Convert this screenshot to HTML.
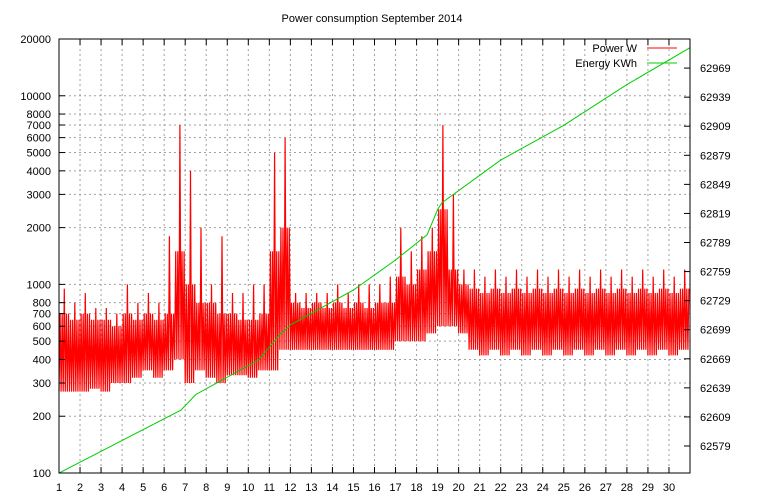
<!DOCTYPE html>
<html><head><meta charset="utf-8"><style>
body{margin:0;background:#fff}
svg{display:block;font-family:"Liberation Sans",sans-serif;font-size:11px}
</style></head><body>
<svg id="c" width="768" height="500" viewBox="0 0 768 500">
<rect width="768" height="500" fill="#fff"/>
<text x="372" y="22" text-anchor="middle">Power consumption September 2014</text>
<g id="grid"></g>
<g id="series"></g>
<g id="axes"></g>
<g>
<text x="637" y="52" text-anchor="end">Power W</text>
<line x1="647" y1="48" x2="677" y2="48" stroke="#f00"/>
<text x="637" y="67" text-anchor="end">Energy KWh</text>
<line x1="647" y1="63" x2="677" y2="63" stroke="#0c0"/>
</g>
</svg>
<script>
const dayTicks=[1,2,3,4,5,6,7,8,9,10,11,12,13,14,15,16,17,18,19,20,21,22,23,24,25,26,27,28,29,30];
const powerTicks=[100,200,300,400,500,600,700,800,1000,2000,3000,4000,5000,6000,7000,8000,10000,20000];
const energyTicks=[62579,62609,62639,62669,62699,62729,62759,62789,62819,62849,62879,62909,62939,62969];
// half-day segments starting at day 1
const powerLow=[270,270,270,280,270,300,300,320,350,320,350,400,300,350,320,300,330,330,320,350,350,450,450,450,450,450,450,450,450,450,450,450,500,500,500,550,600,600,550,450,420,450,420,450,420,450,420,450,420,450,420,450,420,450,420,450,420,450,420,450];
const powerHigh=[700,650,700,650,650,600,700,650,700,650,700,1500,1000,800,800,700,700,650,650,700,1500,2000,800,750,800,750,800,750,800,750,800,800,1100,1000,1200,1500,2500,1200,1000,950,900,950,900,950,900,950,900,950,900,950,900,950,900,950,900,950,900,950,900,950];
const powerPeak=[950,800,900,750,750,700,1000,800,900,800,1800,7000,4000,2000,1000,1800,900,900,1000,1000,5000,6000,900,900,900,900,1000,900,1000,1000,1000,1100,2000,1500,1800,2000,7000,3000,1200,1200,1100,1200,1100,1200,1100,1200,1100,1200,1100,1200,1100,1200,1100,1200,1100,1200,1100,1200,1100,1200];
const energyDays=[1,6.8,7.5,10.5,11.5,12,15,17,18.5,19,19.2,22,25,28,31];
const energyVals=[62551,62616,62632,62668,62694,62704,62740,62771,62797,62823,62830,62874,62910,62952,62990];

const L=59,R=690,T=39,B=473;
const xS=d=>L+(d-1)*(R-L)/30;
const yP=v=>B-(Math.log10(v)-2)/Math.log10(200)*(B-T);
const yE=v=>446-(v-62579)*0.969;
const NS="http://www.w3.org/2000/svg";
function mk(tag,parent,attrs){const e=document.createElementNS(NS,tag);for(const k in attrs)e.setAttribute(k,attrs[k]);parent.appendChild(e);return e;}
const grid=document.getElementById('grid'),axes=document.getElementById('axes'),series=document.getElementById('series');

dayTicks.forEach(d=>{const x=xS(d);
 if(d>1){const g=mk('line',grid,{x1:x,y1:T,x2:x,y2:B,stroke:'#a0a0a0','stroke-dasharray':'2,3'});
 
 }
 const t=mk('line',axes,{x1:x,y1:B,x2:x,y2:B-6,stroke:'#000'});
 
 
 const t2=mk('line',axes,{x1:x,y1:T,x2:x,y2:T+6,stroke:'#000'});
 
 
 const l=mk('text',axes,{x:x,y:B+18,'text-anchor':'middle'});l.textContent=d;
 
 
});
powerTicks.forEach(v=>{const y=yP(v);
 if(v>100&&v<20000){const g=mk('line',grid,{x1:L,y1:y,x2:R,y2:y,stroke:'#a0a0a0','stroke-dasharray':'2,3'});
 
 }
 const t=mk('line',axes,{x1:L,y1:y,x2:L+6,y2:y,stroke:'#000'});
 
 
 const l=mk('text',axes,{x:L-8,y:y+4,'text-anchor':'end'});l.textContent=v;
 
 
});
energyTicks.forEach(v=>{const y=yE(v);
 const t=mk('line',axes,{x1:R,y1:y,x2:R-6,y2:y,stroke:'#000'});
 
 
 const l=mk('text',axes,{x:R+10,y:y+4});l.textContent=v;
 
 
});
const frame=mk('rect',axes,{x:L,y:T,width:R-L,height:B-T,fill:'none',stroke:'#000'});



// power
let pts=[];
powerLow.forEach((lo,i)=>{const d0=1+i*0.5,n=10;
 for(let k=0;k<n;k++){const d=d0+k*0.5/n;
  let v=(k%2?powerHigh[i]:lo);
  if(k==5)v=powerPeak[i];
  pts.push(xS(d).toFixed(1)+','+yP(v).toFixed(1));}
});
const pl=mk('polyline',series,{points:pts.join(' '),fill:'none',stroke:'#f00','stroke-width':1.2});


// energy
const ep=energyDays.map((d,i)=>xS(d).toFixed(1)+','+yE(energyVals[i]).toFixed(1)).join(' ');
const el=mk('polyline',series,{points:ep,fill:'none',stroke:'#0c0','stroke-width':1});


</script>
</body></html>
